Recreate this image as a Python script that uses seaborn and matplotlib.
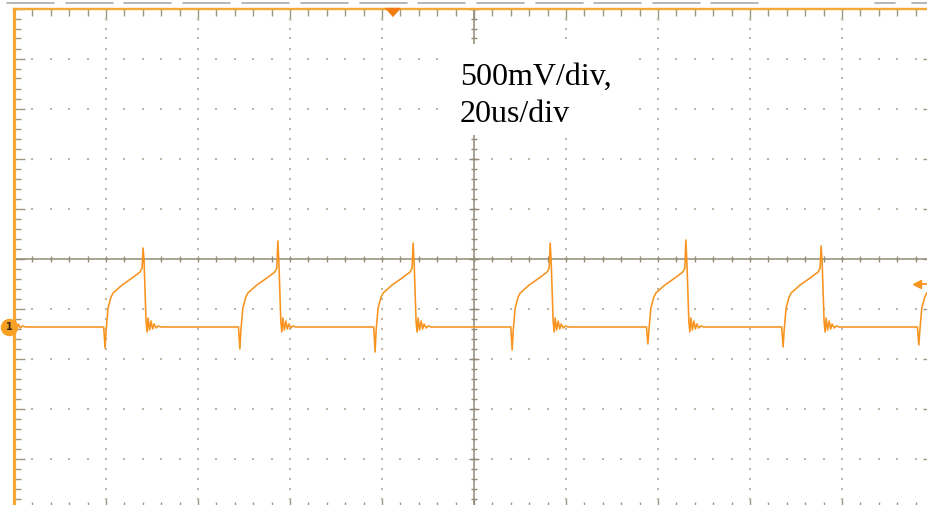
import numpy as np
import matplotlib
matplotlib.use("Agg")
import matplotlib.pyplot as plt
from matplotlib.lines import Line2D
from matplotlib.patches import Rectangle
import seaborn as sns

# scope settings: 20 us/div, 500 mV/div, 10 x 10 divisions
t_divs = np.arange(-100, 101, 20)
v_divs = np.arange(-2.5, 2.51, 0.5)

# one pulse of the waveform (time offset in us, volts)
# index 1 = negative dip, index 10 = spike top (set per pulse below)
shape_dt = [-0.3, 0.0, 0.22, 0.65, 1.30, 1.74, 3.70, 5.87, 7.61, 8.04, 8.26, 8.48,
            8.91, 9.13, 9.35, 9.67, 10.0, 10.33, 10.65, 11.09, 11.52, 12.2]
shape_v = [-0.685, -0.90, -0.72, -0.495, -0.385, -0.345, -0.265, -0.195, -0.135, -0.095,
           0.15, -0.035, -0.635, -0.735, -0.595, -0.715, -0.625, -0.705, -0.655, -0.695,
           -0.675, -0.685]

pulse_start = [-109.7, -80.2, -50.9, -21.5, 8.3, 37.8, 67.2, 96.7]
pulse_dip = [-0.90, -0.895, -0.905, -0.935, -0.915, -0.855, -0.885, -0.865]
pulse_peak = [0.14, 0.105, 0.175, 0.155, 0.155, 0.185, 0.125, 0.15]

baseline = -0.685
trig_time = -17.8
trig_level = -0.258

label_lines = ["500mV/div,", "20us/div"]

trace_col = "#f7931e"
border_col = "#f6a836"
grid_col = "#bdb6a4"
axis_col = "#918b77"

t = []
v = []
for t0, dip, peak in zip(pulse_start, pulse_dip, pulse_peak):
    vals = list(shape_v)
    vals[1] = dip
    vals[10] = peak
    t += [t0 + d for d in shape_dt]
    v += vals

sns.set_style("white")
W, H = 927, 505
fig = plt.figure(figsize=(W / 100, H / 100), dpi=100)
# screen area: left edge 14 px, top 8.5 px, 92 px/div horizontally, 50 px/div vertically
ax = fig.add_axes([14 / W, (H - 508.5) / H, 920 / W, 500 / H])
ax.set_xlim(-100, 100)
ax.set_ylim(-2.5, 2.5)

# dotted graticule
minor_t = np.arange(-100, 100.1, 4)
minor_v = np.arange(-2.5, 2.51, 0.1)
dx, dy = [], []
for xv in t_divs[1:-1]:
    if xv == 0:
        continue
    for yv in minor_v[1:-1]:
        dx.append(xv); dy.append(yv)
for yv in v_divs[1:-1]:
    if abs(yv) < 1e-9:
        continue
    for xv in minor_t[1:-1]:
        dx.append(xv); dy.append(yv)
ax.scatter(dx, dy, s=2.2, marker="s", linewidths=0, color=grid_col, zorder=2)

# center axes with small ticks
ax.axhline(0, color=axis_col, lw=1.1, zorder=2)
ax.axvline(0, color=axis_col, lw=1.1, zorder=2)
ax.plot(minor_t, np.zeros_like(minor_t), ls="none", marker="|", ms=5, mew=1.0,
        color=axis_col, zorder=2)
ax.plot(np.zeros_like(minor_v), minor_v, ls="none", marker="_", ms=3.8, mew=1.0,
        color=axis_col, zorder=2)
ax.plot(np.zeros_like(v_divs), v_divs, ls="none", marker="_", ms=7.2, mew=1.0,
        color=axis_col, zorder=2)

# edge ticks
ax.set_xticks(t_divs)
ax.set_xticks(minor_t, minor=True)
ax.set_yticks(v_divs)
ax.set_yticks(minor_v, minor=True)
ax.tick_params(which="both", direction="in", top=True, right=True, bottom=True, left=True,
               labelbottom=False, labelleft=False, color="#9d977f", width=1.0)
ax.tick_params(which="major", length=7.9)
ax.tick_params(which="minor", length=5.0)
for side in ["bottom", "right"]:
    ax.spines[side].set_visible(False)
ax.spines["left"].set_color(border_col)
ax.spines["left"].set_linewidth(2.3)
ax.spines["top"].set_color(border_col)
ax.spines["top"].set_linewidth(1.7)

# white box behind the label
ax.add_patch(Rectangle((-5.9, 1.235), 39.8, 0.91, facecolor="white", edgecolor="none",
                       zorder=3))

# waveform
sns.lineplot(x=t, y=v, ax=ax, sort=False, estimator=None, color=trace_col, lw=1.15,
             zorder=5)

# trigger position marker at top
tri = [(-1, 0.55), (1, 0.55), (0, -0.55)]
ax.plot([trig_time], [2.465], marker=tri, ms=10.5, color="#f57c12", ls="none",
        clip_on=False, zorder=6)
# trigger level arrow at right
ax.plot([96.3], [trig_level], marker="<", ms=6, color=trace_col, ls="none", zorder=6)
ax.plot([96.5, 100], [trig_level, trig_level], color=trace_col, lw=1.3, zorder=6)
# channel 1 marker
ax.plot([-101.1], [baseline], marker="o", ms=11.5, color="#f7a024", ls="none",
        clip_on=False, zorder=7)
ax.text(-101.1, baseline, "1", ha="center", va="center", fontsize=7,
        color="#3a2a10", fontweight="bold", zorder=8, clip_on=False)

# gray bar segments above the screen
seg_starts = [7, 66, 124, 183, 242, 301, 360, 418, 477, 536, 594, 653, 711]
for s in seg_starts:
    fig.add_artist(Line2D([s / W, (s + 47) / W], [1 - 3 / H, 1 - 3 / H],
                          color="#a9a9a9", lw=1.2))
for s0, s1 in [(875, 895), (912, 927)]:
    fig.add_artist(Line2D([s0 / W, s1 / W], [1 - 3 / H, 1 - 3 / H],
                          color="#a9a9a9", lw=1.2))

# scale label
fig.text(460 / W, 1 - 85 / H, label_lines[0], fontsize=23, family="Liberation Serif",
         va="baseline", ha="left", color="black")
fig.text(460 / W, 1 - 122 / H, label_lines[1], fontsize=23, family="Liberation Serif",
         va="baseline", ha="left", color="black")

fig.savefig("out.png", dpi=100)
